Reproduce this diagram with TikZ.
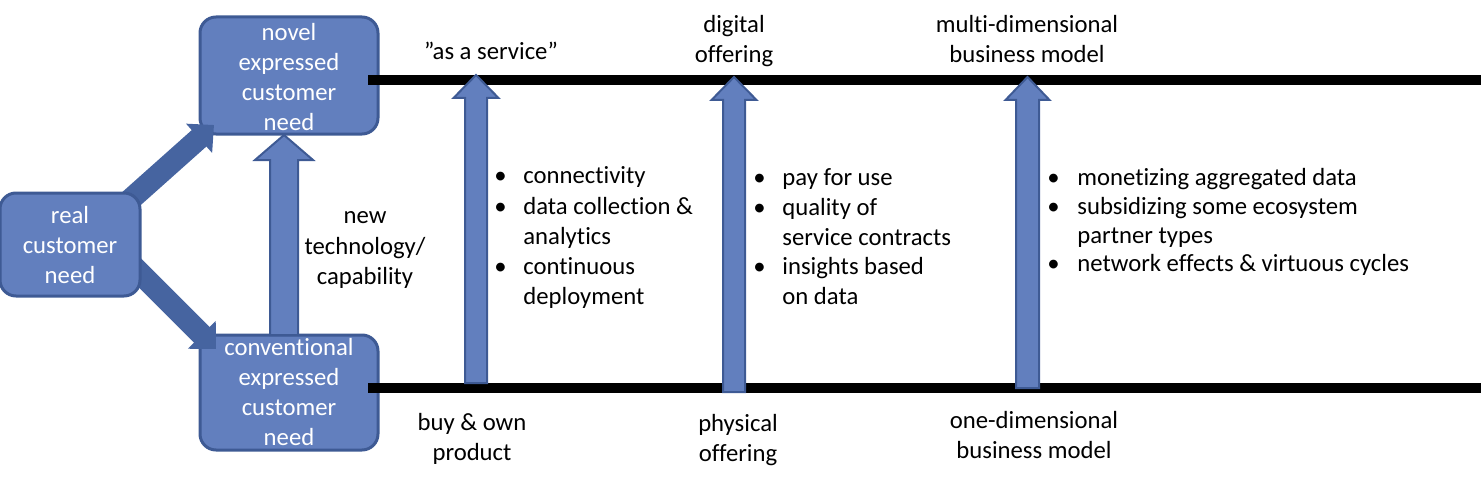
\documentclass[tikz,border=0pt]{standalone}
\usepackage{fontspec}
\setmainfont[Ligatures=NoCommon]{Carlito}
\usetikzlibrary{arrows.meta}
\definecolor{boxfill}{RGB}{98,127,190}
\definecolor{boxline}{RGB}{62,90,148}
\definecolor{diagfill}{RGB}{70,100,160}
\newcommand\blockup[7]{% name, x, ytip, ybase, ybottom, halfshaft, halfhead
  \draw[blockarrow] (#2-#6,#5) -- (#2-#6,#4) -- (#2-#7,#4) -- (#2,#3) coordinate (#1) -- (#2+#7,#4) -- (#2+#6,#4) -- (#2+#6,#5) -- cycle;}
\begin{document}
\begin{tikzpicture}[x=0.5pt,y=-0.5pt,
  every node/.style={font=\fontsize{12.35pt}{15pt}\selectfont, inner sep=0pt},
  needbox/.style={draw=boxline, line width=1.5pt, fill=boxfill, rounded corners=8pt, text=white, align=center},
  blockarrow/.style={draw=boxline, line width=1pt, fill=boxfill, line join=miter},
  diag/.style={draw=diagfill, line width=11pt, -{Triangle[width=19pt,length=10pt]}},
  bar/.style={line width=4.8pt, black},
  lbl/.style={align=center, text=black},
  itemtxt/.style={anchor=base west},
  bul/.style={anchor=base west}]
\useasboundingbox (0,0) rectangle (1481,481);
% boxes
\node[needbox, minimum width=89pt, minimum height=58.5pt] (novel) at (289,75.5) {};
\node[needbox, minimum width=89pt, minimum height=57.5pt] (conv) at (289,392.5) {};
% diagonal arrows (behind the real box)
\coordinate (d1s) at (94,232);
\coordinate (d1e) at (214,125);
\coordinate (d2s) at (95,228);
\coordinate (d2e) at (216,349);
\draw[diag] (d1s) -- (d1e);
\draw[diag] (d2s) -- (d2e);
\node[needbox, minimum width=70pt, minimum height=51.5pt] (real) at (70,244.5) {};
% box texts
\node[lbl, text=white] at (289,77) {novel\\expressed\\customer\\need};
\node[lbl, text=white] at (289,392) {conventional\\expressed\\customer\\need};
\node[lbl, text=white] at (70,245.5) {real\\customer\\need};
% middle arrow
\blockup{mtip}{284}{135}{160}{335}{14}{29}
\node[lbl] (newtech) at (365,250) {new\\technology/\\capability};
% horizontal bars
\coordinate (topL) at (368,80);
\coordinate (topR) at (1481,80);
\coordinate (botL) at (368,388);
\coordinate (botR) at (1481,388);
\draw[bar] (topL) -- (topR);
\draw[bar] (botL) -- (botR);
% vertical arrows
\blockup{a1}{476}{75}{98}{383}{11}{22.5}
\blockup{a2}{734}{77}{100}{392}{11}{22.5}
\blockup{a3}{1027.5}{77}{100}{388}{11.5}{22}
% top labels
\node[lbl, anchor=base] (svc) at (491,60) {”as a service”};
\node[lbl, anchor=base] (dig1) at (734,33) {digital};
\node[lbl, anchor=base] (dig2) at (734,63) {offering};
\node[lbl, anchor=base] (mul1) at (1027,33) {multi-dimensional};
\node[lbl, anchor=base] (mul2) at (1027,63) {business model};
% bottom labels
\node[lbl, anchor=base] (buy1) at (472,430) {buy \& own};
\node[lbl, anchor=base] (buy2) at (472,460) {product};
\node[lbl, anchor=base] (phy1) at (738,431) {physical};
\node[lbl, anchor=base] (phy2) at (738,461) {offering};
\node[lbl, anchor=base] (one1) at (1034,428) {one-dimensional};
\node[lbl, anchor=base] (one2) at (1034,458) {business model};
% list 1
\node[bul] at (494,183) {•};
\node[itemtxt] at (523,183) {connectivity};
\node[bul] at (494,214) {•};
\node[itemtxt] at (523,214) {data collection \&};
\node[itemtxt] at (523,244) {analytics};
\node[bul] at (494,274) {•};
\node[itemtxt] at (523,274) {continuous};
\node[itemtxt] at (523,304) {deployment};
% list 2
\node[bul] at (753,185) {•};
\node[itemtxt] at (782,185) {pay for use};
\node[bul] at (753,215) {•};
\node[itemtxt] at (782,215) {quality of};
\node[itemtxt] at (782,245) {service contracts};
\node[bul] at (753,274) {•};
\node[itemtxt] at (782,274) {insights based};
\node[itemtxt] at (782,304) {on data};
% list 3
\node[bul] at (1047,185) {•};
\node[itemtxt] at (1077,185) {monetizing aggregated data};
\node[bul] at (1047,214) {•};
\node[itemtxt] at (1077,214) {subsidizing some ecosystem};
\node[itemtxt] at (1077,243) {partner types};
\node[bul] at (1047,271) {•};
\node[itemtxt] at (1077,271) {network effects \& virtuous cycles};
\end{tikzpicture}
\end{document}
